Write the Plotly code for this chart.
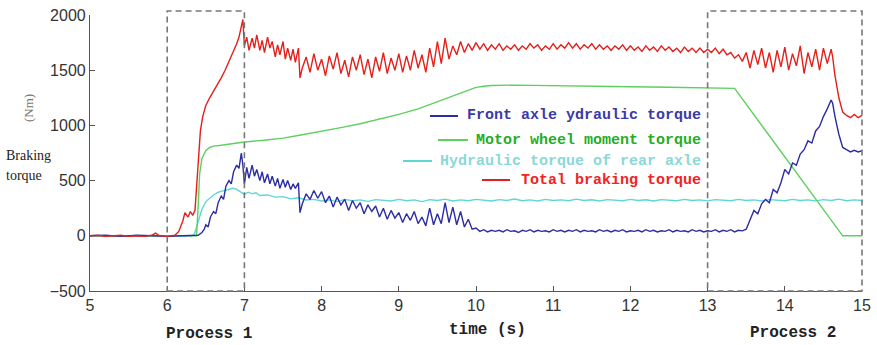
import numpy as np
import plotly.graph_objects as go

# ---------------- data ----------------
# Total braking torque (red)
red_head_t = [5.0, 5.1, 5.2, 5.3, 5.4, 5.5, 5.6, 5.7, 5.8, 5.85, 5.9, 6.0, 6.05, 6.1, 6.15, 6.2, 6.23, 6.27,
              6.3, 6.33, 6.36, 6.4, 6.43, 6.46, 6.5, 6.55, 6.6, 6.65, 6.7, 6.75, 6.8, 6.85, 6.9, 6.93, 6.96,
              6.98, 7.0, 7.03, 7.06, 7.1, 7.13, 7.16, 7.2, 7.23, 7.26, 7.3, 7.33, 7.36, 7.4, 7.43, 7.46,
              7.5, 7.53, 7.56, 7.6, 7.63, 7.66, 7.7, 7.72]
red_head = [0, 5, -5, 0, 5, -5, 0, -5, 5, 25, 0, -5, 0, 5, 40, 130, 210, 170,
            220, 185, 230, 700, 950, 1080, 1180, 1250, 1310, 1360, 1430, 1500, 1580, 1650, 1740, 1800, 1900,
            1960, 1720, 1800, 1680, 1790, 1700, 1820, 1680, 1770, 1660, 1800, 1700, 1760, 1620, 1730, 1640,
            1760, 1600, 1700, 1590, 1690, 1570, 1700, 1430]
red_mid_start, mid_step = 7.75, 0.05
red_mid = [1520, 1620, 1480, 1650, 1500, 1600, 1450, 1630, 1510, 1660,
           1470, 1590, 1440, 1620, 1500, 1640, 1460, 1600, 1430, 1620,
           1490, 1660, 1470, 1610, 1500, 1650, 1480, 1630, 1500, 1680,
           1520, 1640, 1480, 1700, 1530, 1760, 1560, 1790, 1600, 1720,
           1640, 1760, 1660, 1740, 1680, 1750, 1690, 1740, 1680, 1730,
           1690, 1740, 1680, 1720, 1690, 1730, 1680, 1720, 1690, 1740,
           1700, 1730, 1680, 1720, 1690, 1740, 1690, 1730, 1700, 1750,
           1700, 1740, 1690, 1730, 1700, 1740, 1690, 1730, 1690, 1720,
           1680, 1720, 1690, 1730, 1680, 1720, 1680, 1710, 1670, 1720,
           1680, 1710, 1670, 1720, 1680, 1710, 1670, 1700, 1660, 1710,
           1670, 1700, 1660, 1700, 1660, 1690, 1660, 1700, 1650, 1690,
           1640, 1660, 1610, 1640, 1580, 1660, 1520, 1680, 1550, 1700,
           1520, 1660, 1480, 1680, 1530, 1710, 1500, 1650, 1540, 1720,
           1470, 1660, 1530, 1690, 1500, 1700, 1560]
red_tail_t = [14.6, 14.62, 14.65, 14.7, 14.75, 14.8, 14.85, 14.9, 14.95, 15.0]
red_tail = [1690, 1620, 1450, 1250, 1120, 1090, 1070, 1100, 1070, 1090]

# Front axle hydraulic torque (blue)
blue_head_t = [5.0, 5.2, 5.4, 5.6, 5.8, 6.0, 6.2, 6.4, 6.45, 6.48, 6.5, 6.53, 6.56, 6.6, 6.63, 6.66, 6.7,
               6.73, 6.76, 6.8, 6.83, 6.86, 6.9, 6.93, 6.96, 6.98, 7.0, 7.03, 7.06, 7.1, 7.13, 7.16, 7.2,
               7.23, 7.26, 7.3, 7.33, 7.36, 7.4, 7.43, 7.46, 7.5, 7.53, 7.56, 7.6, 7.63, 7.66, 7.7, 7.72]
blue_head = [0, 5, -5, 5, 0, -5, 0, 5, 30, 60, 100, 80, 170, 220, 200, 300, 360,
             330, 450, 500, 470, 580, 640, 610, 750, 640, 470, 620, 520, 640, 540, 600, 500,
             580, 480, 560, 470, 540, 450, 520, 430, 510, 440, 500, 420, 470, 430, 480, 210]
blue_mid = [290, 380, 330, 410, 340, 400, 300, 360, 260, 350,
            280, 330, 230, 320, 250, 300, 200, 280, 220, 270,
            170, 250, 150, 230, 160, 210, 120, 200, 140, 220,
            110, 170, 90, 250, 100, 200, 110, 300, 120, 260,
            100, 220, 80, 150, 60, 70, 40, 55, 35, 50,
            40, 50, 35, 55, 40, 45, 30, 50, 40, 55,
            35, 50, 40, 45, 35, 55, 40, 50, 35, 50,
            40, 55, 35, 50, 40, 45, 35, 55, 40, 50,
            35, 50, 40, 55, 35, 45, 40, 50, 35, 55,
            40, 50, 35, 45, 40, 55, 35, 50, 40, 45,
            35, 55, 40, 50, 35, 45, 40, 55, 35, 50,
            40, 55, 35, 50, 45, 60, 150, 230, 200, 290,
            330, 300, 420, 390, 480, 600, 560, 660, 640, 740,
            780, 860, 840, 950, 990, 1080, 1150]
blue_tail_t = [14.6, 14.62, 14.65, 14.7, 14.75, 14.8, 14.85, 14.9, 14.95, 15.0]
blue_tail = [1230, 1200, 1080, 920, 800, 780, 760, 775, 760, 770]

# Motor wheel moment torque (green)
green_t = [5.0, 6.0, 6.38, 6.4, 6.42, 6.45, 6.5, 6.55, 6.6, 6.7, 6.8, 6.9, 7.0, 7.25, 7.5, 7.75, 8.0,
           8.25, 8.5, 8.75, 9.0, 9.25, 9.5, 9.65, 9.8, 9.9, 10.0, 10.1, 10.2, 10.5, 11.0, 11.5, 12.0,
           12.5, 13.0, 13.35, 14.75, 15.0]
green = [0, 0, 0, 250, 560, 700, 770, 800, 812, 820, 830, 840, 850, 865, 885, 915, 945,
         980, 1015, 1055, 1100, 1150, 1215, 1260, 1300, 1325, 1345, 1355, 1362, 1365, 1362, 1358, 1350,
         1345, 1340, 1335, 0, 0]

# Hydraulic torque of rear axle (cyan)
cyan_head_t = [5.0, 5.5, 6.0, 6.3, 6.35, 6.4, 6.45, 6.5, 6.55, 6.6, 6.65, 6.7, 6.75, 6.8, 6.85, 6.9,
               6.95, 7.0, 7.05, 7.1, 7.15, 7.2, 7.3, 7.4, 7.5, 7.6, 7.7, 7.8]
cyan_head = [0, 0, 0, 0, 10, 120, 240, 310, 340, 370, 390, 405, 410, 420, 430, 420,
             400, 375, 395, 380, 390, 365, 370, 350, 355, 335, 345, 325]
cyan_mid_start, cyan_step = 7.9, 0.1
cyan_mid = [330, 315, 325, 310, 330, 318, 325, 312, 328, 320,
            315, 330, 318, 325, 310, 328, 320, 332, 315, 325,
            318, 330, 322, 315, 328, 320, 333, 318, 325, 315,
            330, 320, 325, 318, 332, 320, 326, 315, 328, 322,
            318, 330, 320, 326, 315, 328, 322, 318, 330, 320,
            325, 316, 328, 322, 318, 330, 320, 325, 315, 328,
            322, 318, 330, 320, 325, 316, 328, 320, 332, 318,
            325, 320]

x_ticks = [5, 6, 7, 8, 9, 10, 11, 12, 13, 14, 15]
y_ticks = [-500, 0, 500, 1000, 1500, 2000]
x_range = [5, 15]
y_range = [-500, 2000]
process_boxes = [(6, 7), (13, 15)]

legend_names = ["Front axle ydraulic torque", "Motor wheel moment torque",
                "Hydraulic torque of rear axle", "Total braking torque"]

# ---------------- assemble ----------------
red_t = red_head_t + [round(red_mid_start + mid_step * i, 4) for i in range(len(red_mid))] + red_tail_t
red_v = red_head + red_mid + red_tail
blue_t = blue_head_t + [round(red_mid_start + mid_step * i, 4) for i in range(len(blue_mid))] + blue_tail_t
blue_v = blue_head + blue_mid + blue_tail
cyan_t = cyan_head_t + [round(cyan_mid_start + cyan_step * i, 4) for i in range(len(cyan_mid))]
cyan_v = cyan_head + cyan_mid

C_RED = "#e3201b"
C_BLUE = "#2c2ca4"
C_GREEN = "#5fcf5f"
C_CYAN = "#5fd6d6"

fig = go.Figure()
fig.add_trace(go.Scatter(x=cyan_t, y=cyan_v, mode="lines", line=dict(color=C_CYAN, width=1.4)))
fig.add_trace(go.Scatter(x=green_t, y=green, mode="lines", line=dict(color=C_GREEN, width=1.4)))
fig.add_trace(go.Scatter(x=blue_t, y=blue_v, mode="lines", line=dict(color=C_BLUE, width=1.4)))
fig.add_trace(go.Scatter(x=red_t, y=red_v, mode="lines", line=dict(color=C_RED, width=1.4)))

W, H = 877, 345
ML, MR, MT, MB = 90, 15, 15, 54
PW, PH = W - ML - MR, H - MT - MB


def px_x(p):
    return (p - ML) / PW


def px_y(p):
    return (H - MB - p) / PH


shapes = []
for (a, b) in process_boxes:
    x0 = (a - x_range[0]) / (x_range[1] - x_range[0])
    x1 = (b - x_range[0]) / (x_range[1] - x_range[0])
    shapes.append(dict(type="rect", xref="paper", yref="paper", x0=x0, x1=x1, y0=0, y1=px_y(11),
                       line=dict(color="#777777", width=1.6, dash="6px,4px"), fillcolor="rgba(0,0,0,0)"))

# legend (drawn as annotations + short line samples)
leg_rows = [116, 140, 161, 180]
leg_line_x = [(430, 458), (438, 468), (403, 432), (482, 510)]
leg_line_col = [C_BLUE, C_GREEN, C_CYAN, C_RED]
leg_text_col = ["#3a3aa6", "#25ad25", "#8ad8d8", "#f02424"]
annotations = []
for name, yy, (xa, xb), lc, tc in zip(legend_names, leg_rows, leg_line_x, leg_line_col, leg_text_col):
    shapes.append(dict(type="line", xref="paper", yref="paper", x0=px_x(xa), x1=px_x(xb),
                       y0=px_y(yy), y1=px_y(yy), line=dict(color=lc, width=2)))
    annotations.append(dict(text="<b>" + name + "</b>", xref="paper", yref="paper", x=px_x(703), y=px_y(yy),
                            xanchor="right", yanchor="middle", showarrow=False,
                            font=dict(family="Liberation Mono", size=15, color=tc)))

annotations += [
    dict(text="Braking", xref="paper", yref="paper", x=px_x(4), y=px_y(155), xanchor="left", yanchor="middle",
         showarrow=False, font=dict(family="Liberation Serif", size=14, color="#222222")),
    dict(text="torque", xref="paper", yref="paper", x=px_x(4), y=px_y(176), xanchor="left", yanchor="middle",
         showarrow=False, font=dict(family="Liberation Serif", size=14, color="#222222")),
    dict(text="(Nm)", xref="paper", yref="paper", x=px_x(28), y=px_y(108), xanchor="center", yanchor="middle",
         textangle=-90, showarrow=False, font=dict(family="Liberation Serif", size=13, color="#777777")),
    dict(text="<b>Process 1</b>", xref="paper", yref="paper", x=px_x(209), y=px_y(334), xanchor="center",
         yanchor="middle", showarrow=False, font=dict(family="Liberation Mono", size=16, color="#222222")),
    dict(text="<b>time (s)</b>", xref="paper", yref="paper", x=px_x(487), y=px_y(330), xanchor="center",
         yanchor="middle", showarrow=False, font=dict(family="Liberation Mono", size=16, color="#222222")),
    dict(text="<b>Process 2</b>", xref="paper", yref="paper", x=px_x(793), y=px_y(333), xanchor="center",
         yanchor="middle", showarrow=False, font=dict(family="Liberation Mono", size=16, color="#222222")),
]

axis_common = dict(showline=True, linecolor="#555555", linewidth=1.2, ticks="inside", ticklen=5,
                   tickcolor="#555555", tickwidth=1.2, showgrid=False, zeroline=False, automargin=False,
                   tickfont=dict(family="Liberation Sans", size=16, color="#333333"))

fig.update_layout(
    width=W, height=H, margin=dict(l=ML, r=MR, t=MT, b=MB, autoexpand=False),
    paper_bgcolor="white", plot_bgcolor="white", showlegend=False,
    xaxis=dict(range=x_range, tickvals=x_ticks, **axis_common),
    yaxis=dict(range=y_range, tickvals=y_ticks, **axis_common),
    shapes=shapes, annotations=annotations,
)

fig.write_html("out.html")
